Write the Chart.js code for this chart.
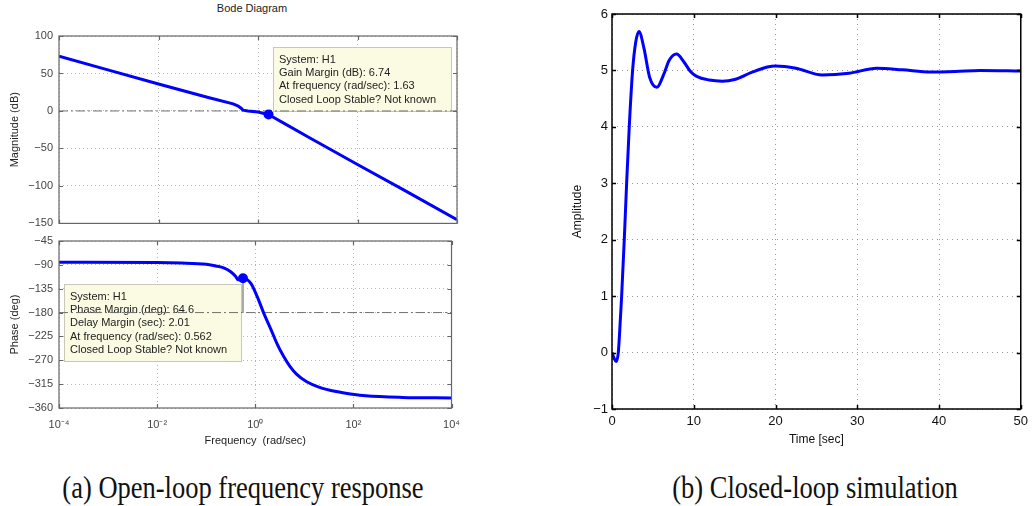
<!DOCTYPE html>
<html>
<head>
<meta charset="utf-8">
<script src="https://cdn.jsdelivr.net/npm/chart.js@4/dist/chart.umd.min.js"></script>
<style>
  body { margin: 0; background: #fff; }
  #page { position: relative; width: 1033px; height: 506px; overflow: hidden; }
  .box { position: absolute; }
  .cap { position: absolute; font-family: "Liberation Serif", "Times New Roman", serif; font-size: 26.5px; line-height: 30px; color: #111; white-space: nowrap; transform: translateX(-50%) scaleY(1.2); }
  #bodeTitle { position: absolute; left: 252px; top: 2px; transform: translateX(-50%); font: 11px "Liberation Sans", Arial, sans-serif; color: #222; }
</style>
</head>
<body>
<div id="page">
  <div id="bodeTitle">Bode Diagram</div>
  <div class="box" style="left:0;top:0;width:470px;height:236px"><canvas id="magChart"></canvas></div>
  <div class="box" style="left:0;top:228px;width:470px;height:222px"><canvas id="phaseChart"></canvas></div>
  <div class="box" style="left:540px;top:0;width:493px;height:460px"><canvas id="stepChart"></canvas></div>
  <div class="cap" style="left:243px;top:472px">(a) Open-loop frequency response</div>
  <div class="cap" style="left:815px;top:472px">(b) Closed-loop simulation</div>
</div>
<script>
// Bode: magnitude (dB)
const magFreq = [1e-4, 1e-3, 1e-2, 1e-1, 0.316, 0.4, 0.47, 0.5, 0.63, 1, 1.26, 1.63, 3.16, 10, 100, 1000, 1e4];
const magDb   = [73, 54.5, 36, 18, 9.5, 6.5, 3, 1, 0, -1.5, -3, -4.8, -15.5, -34.5, -71.5, -108, -145];

// Bode: phase (deg)
const phaseFreq = [1e-4, 1e-2, 0.0316, 0.1, 0.158, 0.234, 0.316, 0.4, 0.447, 0.5, 0.562, 0.813, 1.096, 1.496, 2.042, 2.754, 3.80, 5.13, 6.92, 11.2, 20.4, 44.7, 95.5, 178, 1000, 1e4];
const phaseDeg  = [-85, -85.5, -86.5, -89, -92, -96, -103, -112, -118, -116.5, -115.4, -124.8, -150, -181.4, -209.7, -238, -263, -282, -296, -310.5, -321, -329, -334, -337, -340, -341];

// margin markers
const gmFreq = [1.63], gmDb = [-4.8];
const pmFreq = [0.562], pmDeg = [-115.4];
const magRefDb = 0, phaseRefDeg = -180;

const freqTicks = [1e-4, 1e-2, 1, 1e2, 1e4];
const freqTickLabels = ['10\u207B\u2074', '10\u207B\u00B2', '10\u2070', '10\u00B2', '10\u2074'];

const gmNote = ['System: H1', 'Gain Margin (dB): 6.74', 'At frequency (rad/sec): 1.63', 'Closed Loop Stable? Not known'];
const pmNote = ['System: H1', 'Phase Margin (deg): 64.6', 'Delay Margin (sec): 2.01', 'At frequency (rad/sec): 0.562', 'Closed Loop Stable? Not known'];

// closed-loop step response
const stepT = [0, 0.25, 0.5, 0.77, 0.95, 1.18, 1.5, 1.79, 2.11, 2.52, 2.9, 3.3, 3.9, 4.6, 5.5, 6.3, 7.0, 7.9, 8.8, 9.6, 10.3, 11.9, 13.5, 15, 17, 19, 20, 22.5, 25.7, 29, 32.4, 35.5, 39, 42, 45, 50];
const stepY = [0, -0.1, -0.16, 0, 0.4, 1.0, 2.0, 3.0, 4.0, 5.0, 5.5, 5.69, 5.4, 4.88, 4.70, 4.92, 5.18, 5.29, 5.15, 4.98, 4.90, 4.83, 4.81, 4.84, 4.96, 5.06, 5.08, 5.04, 4.92, 4.95, 5.04, 5.01, 4.97, 4.98, 5.00, 4.99];

const sans = '"Liberation Sans", Arial, Helvetica, sans-serif';
const minus = v => String(v).replace('-', '\u2212');
const pts = (xs, ys) => xs.map((x, i) => ({ x: x, y: ys[i] }));

// box around the plot + small inward ticks, like matlab axes
const framePlugin = {
  id: 'frame',
  afterDatasetsDraw(chart, args, opts) {
    const { ctx, chartArea: a, scales } = chart;
    ctx.save();
    ctx.strokeStyle = opts.color;
    ctx.lineWidth = opts.width;
    ctx.setLineDash([]);
    ctx.beginPath();
    scales.x.ticks.forEach(t => {
      const px = Math.round(scales.x.getPixelForValue(t.value)) + 0.5;
      ctx.moveTo(px, a.bottom); ctx.lineTo(px, a.bottom - 4);
      ctx.moveTo(px, a.top); ctx.lineTo(px, a.top + 4);
    });
    scales.y.ticks.forEach(t => {
      const py = Math.round(scales.y.getPixelForValue(t.value)) + 0.5;
      ctx.moveTo(a.left, py); ctx.lineTo(a.left + 4, py);
      ctx.moveTo(a.right, py); ctx.lineTo(a.right - 4, py);
    });
    ctx.stroke();
    ctx.strokeRect(a.left, a.top, a.right - a.left, a.bottom - a.top);
    ctx.restore();
  }
};

// yellow data-tip box drawn under the curves
const notePlugin = {
  id: 'note',
  beforeDatasetsDraw(chart, args, opts) {
    if (!opts.lines) return;
    const { ctx, chartArea: a } = chart;
    const x = a.left + opts.dx, y = a.top + opts.dy;
    ctx.save();
    ctx.fillStyle = '#fbfbe3';
    ctx.fillRect(x, y, opts.w, opts.h);
    ctx.strokeStyle = '#c8c8b8';
    ctx.lineWidth = 1;
    ctx.strokeRect(x + 0.5, y + 0.5, opts.w, opts.h);
    ctx.fillStyle = '#222';
    ctx.font = '11px ' + sans;
    ctx.textBaseline = 'middle';
    opts.lines.forEach((s, i) => ctx.fillText(s, x + 6, y + 13 + i * 13.2));
    ctx.restore();
  }
};

Chart.register(framePlugin, notePlugin);

function freqAxis(showLabels, height) {
  return {
    type: 'logarithmic',
    min: 1e-4,
    max: 1e4,
    afterBuildTicks: s => { s.ticks = freqTicks.map(v => ({ value: v })); },
    afterFit: s => { s.height = height; },
    grid: { color: '#b8b8b8', drawTicks: false },
    border: { display: false, dash: [1, 3] },
    ticks: {
      display: showLabels,
      autoSkip: false,
      maxRotation: 0,
      padding: 10,
      color: '#444',
      font: { family: sans, size: 11 },
      callback: (v, i) => freqTickLabels[i]
    },
    title: {
      display: showLabels,
      text: 'Frequency  (rad/sec)',
      color: '#222',
      font: { family: sans, size: 11 },
      padding: { top: 0, bottom: 2 }
    }
  };
}

function bodeYAxis(min, max, step, label) {
  return {
    min: min,
    max: max,
    afterFit: s => { s.width = 59; },
    grid: { color: '#b8b8b8', drawTicks: false },
    border: { display: false, dash: [1, 3] },
    ticks: { stepSize: step, padding: 6, color: '#444', font: { family: sans, size: 11 }, callback: v => minus(v) },
    title: { display: true, text: label, color: '#222', font: { family: sans, size: 11 }, padding: { top: 8, bottom: 0 } }
  };
}

const common = {
  responsive: true,
  maintainAspectRatio: false,
  animation: false,
  events: [],
  plugins: { legend: { display: false }, tooltip: { enabled: false } }
};

new Chart(document.getElementById('magChart'), {
  type: 'line',
  data: {
    datasets: [
      { data: pts(gmFreq, gmDb), showLine: false, pointRadius: 5, pointBackgroundColor: '#0000ff', pointBorderWidth: 0 },
      { data: pts(magFreq, magDb), borderColor: '#0000ff', borderWidth: 3, pointRadius: 0, tension: 0 },
      { data: pts([1e-4, 1e4], [magRefDb, magRefDb]), borderColor: '#707070', borderWidth: 1, borderDash: [9, 3, 2, 3], pointRadius: 0 }
    ]
  },
  options: {
    ...common,
    layout: { padding: { top: 36, right: 13, left: 0, bottom: 0 } },
    scales: { x: freqAxis(false, 9), y: bodeYAxis(-150, 100, 50, 'Magnitude (dB)') },
    plugins: {
      ...common.plugins,
      frame: { color: '#666', width: 1.2 },
      note: { lines: gmNote, dx: 214, dy: 11, w: 178, h: 64 }
    }
  }
});

new Chart(document.getElementById('phaseChart'), {
  type: 'line',
  data: {
    datasets: [
      { data: pts(pmFreq, pmDeg), showLine: false, pointRadius: 5, pointBackgroundColor: '#0000ff', pointBorderWidth: 0 },
      { data: pts(phaseFreq, phaseDeg), borderColor: '#0000ff', borderWidth: 3, pointRadius: 0, cubicInterpolationMode: 'monotone' },
      { data: pts([pmFreq[0], pmFreq[0]], [pmDeg[0], phaseRefDeg]), borderColor: '#aaaaaa', borderWidth: 2, pointRadius: 0 },
      { data: pts([1e-4, 1e4], [phaseRefDeg, phaseRefDeg]), borderColor: '#707070', borderWidth: 1, borderDash: [9, 3, 2, 3], pointRadius: 0 }
    ]
  },
  options: {
    ...common,
    layout: { padding: { top: 13, right: 13, left: 0, bottom: 0 } },
    scales: { x: freqAxis(true, 42), y: bodeYAxis(-360, -45, 45, 'Phase (deg)') },
    plugins: {
      ...common.plugins,
      frame: { color: '#666', width: 1.2 },
      note: { lines: pmNote, dx: 5, dy: 43, w: 177, h: 77 }
    }
  }
});

new Chart(document.getElementById('stepChart'), {
  type: 'line',
  data: {
    datasets: [
      { data: pts(stepT, stepY), borderColor: '#0000ff', borderWidth: 3, pointRadius: 0, cubicInterpolationMode: 'monotone' }
    ]
  },
  options: {
    ...common,
    layout: { padding: { top: 14, right: 10, left: 0, bottom: 0 } },
    scales: {
      x: {
        type: 'linear',
        min: 0,
        max: 50,
        afterFit: s => { s.height = 51; },
        grid: { color: '#999', drawTicks: false },
        border: { display: false, dash: [1, 4] },
        ticks: { stepSize: 10, padding: 5, color: '#111', font: { family: sans, size: 13 } },
        title: { display: true, text: 'Time [sec]', color: '#111', font: { family: sans, size: 12 }, padding: { top: 0, bottom: 13 } }
      },
      y: {
        min: -1,
        max: 6,
        afterFit: s => { s.width = 72; },
        grid: { color: '#999', drawTicks: false },
        border: { display: false, dash: [1, 4] },
        ticks: { stepSize: 1, padding: 4, color: '#111', font: { family: sans, size: 13 }, callback: v => minus(v) },
        title: { display: true, text: 'Amplitude', color: '#111', font: { family: sans, size: 12 }, padding: { top: 30, bottom: 0 } }
      }
    },
    plugins: {
      ...common.plugins,
      frame: { color: '#000', width: 1.5 }
    }
  }
});
</script>
</body>
</html>
